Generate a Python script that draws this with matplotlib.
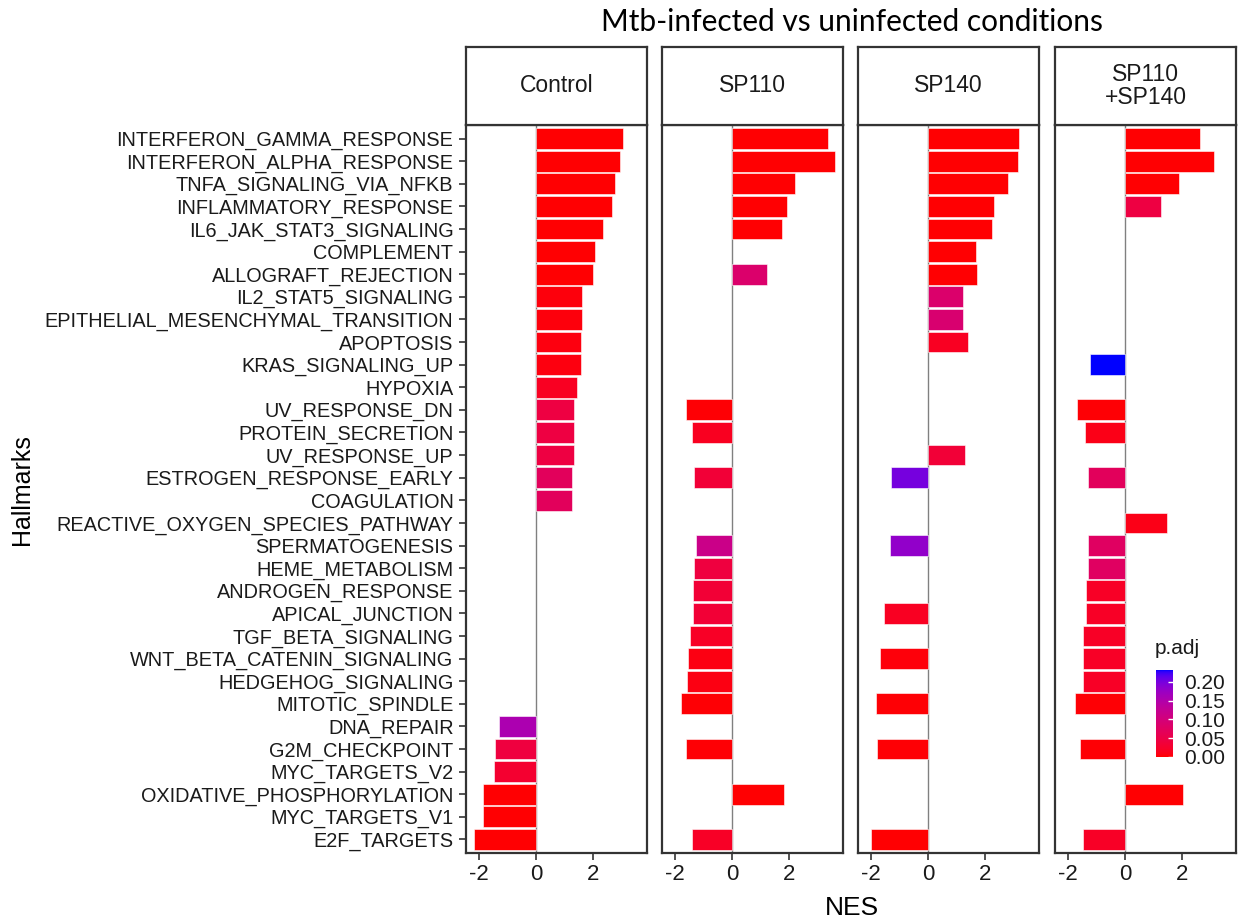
import numpy as np
import matplotlib
matplotlib.use("Agg")
import matplotlib.pyplot as plt
from matplotlib.colors import ListedColormap, Normalize
from matplotlib.cm import ScalarMappable

nan = np.nan

hallmarks = [
    "INTERFERON_GAMMA_RESPONSE", "INTERFERON_ALPHA_RESPONSE", "TNFA_SIGNALING_VIA_NFKB",
    "INFLAMMATORY_RESPONSE", "IL6_JAK_STAT3_SIGNALING", "COMPLEMENT", "ALLOGRAFT_REJECTION",
    "IL2_STAT5_SIGNALING", "EPITHELIAL_MESENCHYMAL_TRANSITION", "APOPTOSIS", "KRAS_SIGNALING_UP",
    "HYPOXIA", "UV_RESPONSE_DN", "PROTEIN_SECRETION", "UV_RESPONSE_UP", "ESTROGEN_RESPONSE_EARLY",
    "COAGULATION", "REACTIVE_OXYGEN_SPECIES_PATHWAY", "SPERMATOGENESIS", "HEME_METABOLISM",
    "ANDROGEN_RESPONSE", "APICAL_JUNCTION", "TGF_BETA_SIGNALING", "WNT_BETA_CATENIN_SIGNALING",
    "HEDGEHOG_SIGNALING", "MITOTIC_SPINDLE", "DNA_REPAIR", "G2M_CHECKPOINT", "MYC_TARGETS_V2",
    "OXIDATIVE_PHOSPHORYLATION", "MYC_TARGETS_V1", "E2F_TARGETS",
]

panels = ["Control", "SP110", "SP140", "SP110\n+SP140"]

# NES per hallmark (nan = not enriched)
control_nes = [3.07, 2.95, 2.78, 2.66, 2.37, 2.08, 2.00, 1.61, 1.61, 1.58, 1.58, 1.45, 1.34, 1.34,
               1.34, 1.25, 1.25, nan, nan, nan, nan, nan, nan, nan, nan, nan, -1.31, -1.43, -1.47,
               -1.85, -1.85, -2.17]
sp110_nes = [3.37, 3.61, 2.21, 1.92, 1.76, nan, 1.22, nan, nan, nan, nan, nan, -1.62, -1.41, nan,
             -1.33, nan, nan, -1.27, -1.33, -1.38, -1.38, -1.46, -1.54, -1.59, -1.80, nan, -1.62,
             nan, 1.84, nan, -1.41]
sp140_nes = [3.19, 3.15, 2.82, 2.33, 2.25, 1.67, 1.71, 1.22, 1.22, 1.42, nan, nan, nan, nan, 1.30,
             -1.30, nan, nan, -1.33, nan, nan, -1.54, nan, -1.70, nan, -1.82, nan, -1.78, nan, nan,
             nan, -2.00]
combo_nes = [2.62, 3.11, 1.90, 1.28, nan, nan, nan, nan, nan, nan, -1.22, nan, -1.67, -1.42, nan,
             -1.30, nan, 1.48, -1.30, -1.30, -1.38, -1.38, -1.46, -1.46, -1.46, -1.75, nan, -1.59,
             nan, 2.04, nan, -1.46]

# adjusted p-values
control_padj = [0.001, 0.001, 0.001, 0.001, 0.001, 0.001, 0.001, 0.005, 0.005, 0.006, 0.006, 0.018,
                0.045, 0.045, 0.045, 0.07, 0.07, nan, nan, nan, nan, nan, nan, nan, nan, nan, 0.155,
                0.042, 0.028, 0.001, 0.001, 0.001]
sp110_padj = [0.001, 0.001, 0.001, 0.001, 0.001, nan, 0.085, nan, nan, nan, nan, nan, 0.002, 0.016,
              nan, 0.035, nan, nan, 0.115, 0.042, 0.034, 0.034, 0.02, 0.008, 0.008, 0.002, nan, 0.002,
              nan, 0.001, nan, 0.02]
sp140_padj = [0.001, 0.001, 0.001, 0.001, 0.001, 0.001, 0.001, 0.085, 0.09, 0.018, nan, nan, nan,
              nan, 0.035, 0.2, nan, nan, 0.18, nan, nan, 0.018, nan, 0.004, nan, 0.002, nan, 0.002,
              nan, nan, nan, 0.001]
combo_padj = [0.001, 0.001, 0.001, 0.045, nan, nan, nan, nan, nan, nan, 0.231, nan, 0.002, 0.01,
              nan, 0.07, nan, 0.01, 0.075, 0.075, 0.02, 0.02, 0.02, 0.02, 0.02, 0.002, nan,
              0.002, nan, 0.001, nan, 0.02]

nes_all = [control_nes, sp110_nes, sp140_nes, combo_nes]
padj_all = [control_padj, sp110_padj, sp140_padj, combo_padj]


# red -> blue gradient interpolated in Lab space (like ggplot)
def srgb_to_lab(rgb):
    c = np.asarray(rgb, float)
    lin = np.where(c <= 0.04045, c / 12.92, ((c + 0.055) / 1.055) ** 2.4)
    M = np.array([[0.4124, 0.3576, 0.1805], [0.2126, 0.7152, 0.0722], [0.0193, 0.1192, 0.9505]])
    xyz = M @ lin / np.array([0.95047, 1.0, 1.08883])
    f = np.where(xyz > 0.008856, np.cbrt(xyz), 7.787 * xyz + 16 / 116)
    return np.array([116 * f[1] - 16, 500 * (f[0] - f[1]), 200 * (f[1] - f[2])])


def lab_to_srgb(lab):
    L, a, b = lab
    fy = (L + 16) / 116
    fx = fy + a / 500
    fz = fy - b / 200
    f = np.array([fx, fy, fz])
    xyz = np.where(f ** 3 > 0.008856, f ** 3, (f - 16 / 116) / 7.787) * np.array([0.95047, 1.0, 1.08883])
    Minv = np.array([[3.2406, -1.5372, -0.4986], [-0.9689, 1.8758, 0.0415], [0.0557, -0.2040, 1.0570]])
    lin = np.clip(Minv @ xyz, 0, 1)
    c = np.where(lin <= 0.0031308, 12.92 * lin, 1.055 * lin ** (1 / 2.4) - 0.055)
    return np.clip(c, 0, 1)


lab_lo = srgb_to_lab([1, 0, 0])
lab_hi = srgb_to_lab([0, 0, 1])
cmap = ListedColormap([lab_to_srgb(lab_lo + t * (lab_hi - lab_lo)) for t in np.linspace(0, 1, 256)])
vmax = np.nanmax([np.nanmax(p) for p in padj_all])
norm = Normalize(vmin=0, vmax=vmax)

allvals = np.concatenate([np.array(n, float) for n in nes_all])
lo, hi = np.nanmin(allvals), np.nanmax(allvals)
pad = 0.05 * (hi - lo)

W, H = 1240, 923
fig = plt.figure(figsize=(W / 100, H / 100), dpi=100)
plt.rcParams['font.family'] = ['Liberation Sans', 'DejaVu Sans']

lefts = [466, 662, 858, 1055]
pw = 181
ptop, pbot = 125, 853
stop = 47

ypos = np.arange(1, len(hallmarks) + 1)
for i, left in enumerate(lefts):
    ax = fig.add_axes([left / W, (H - pbot) / H, pw / W, (pbot - ptop) / H])
    nes = np.array(nes_all[i], float)
    padj = np.array(padj_all[i], float)
    ok = ~np.isnan(nes)
    ax.axvline(0, color='#808080', lw=1.0, zorder=1)
    ax.barh(ypos[ok], nes[ok], height=0.92, color=cmap(norm(padj[ok])),
            edgecolor='white', linewidth=0.4, zorder=2)
    ax.set_xlim(lo - pad, hi + pad)
    ax.set_ylim(len(hallmarks) + 0.6, 0.4)
    ax.set_xticks([-2, 0, 2])
    ax.set_xticklabels(['-2', '0', '2'])
    ax.set_yticks(ypos)
    if i == 0:
        ax.set_yticklabels(hallmarks, fontsize=14.3, color='#1a1a1a')
    else:
        ax.set_yticklabels([])
        ax.tick_params(axis='y', length=0)
    ax.tick_params(axis='x', labelsize=16, labelcolor='#1a1a1a', length=5, width=1.2,
                   color='#333333', pad=3)
    ax.tick_params(axis='y', width=1.2, color='#333333', pad=4)
    if i == 0:
        ax.tick_params(axis='y', length=5)
    for s in ax.spines.values():
        s.set_color('#333333')
        s.set_linewidth(1.6)

    # facet strip
    sax = fig.add_axes([left / W, (H - ptop) / H, pw / W, (ptop - stop) / H])
    sax.set_xticks([])
    sax.set_yticks([])
    for s in sax.spines.values():
        s.set_color('#333333')
        s.set_linewidth(1.6)
    sax.text(0.5, 0.5, panels[i], ha='center', va='center', fontsize=16.5, color='#1a1a1a',
             transform=sax.transAxes, linespacing=1.05)

fig.text(852 / W, 1 - 22 / H, "Mtb-infected vs uninfected conditions", ha='center', va='center',
         fontsize=21.5, family=['Lato', 'DejaVu Sans'], color='black')
fig.text(852 / W, 1 - 908 / H, "NES", ha='center', va='center', fontsize=19)
fig.text(22 / W, 1 - 490 / H, "Hallmarks", ha='center', va='center', fontsize=18, rotation=90)

# colour bar legend
cax = fig.add_axes([1156 / W, (H - 757) / H, 17 / W, 87 / H])
cb = fig.colorbar(ScalarMappable(norm=norm, cmap=cmap), cax=cax, ticks=[0, 0.05, 0.10, 0.15, 0.20])
cb.outline.set_visible(False)
cb.ax.set_yticklabels(['0.00', '0.05', '0.10', '0.15', '0.20'])
cb.ax.tick_params(labelsize=15, length=3.5, direction='in', color='white', width=1, pad=8,
                  labelcolor='#1a1a1a')
fig.text(1155 / W, 1 - 648 / H, "p.adj", ha='left', va='center', fontsize=15, color='#1a1a1a')

fig.savefig("out.png", dpi=100)
